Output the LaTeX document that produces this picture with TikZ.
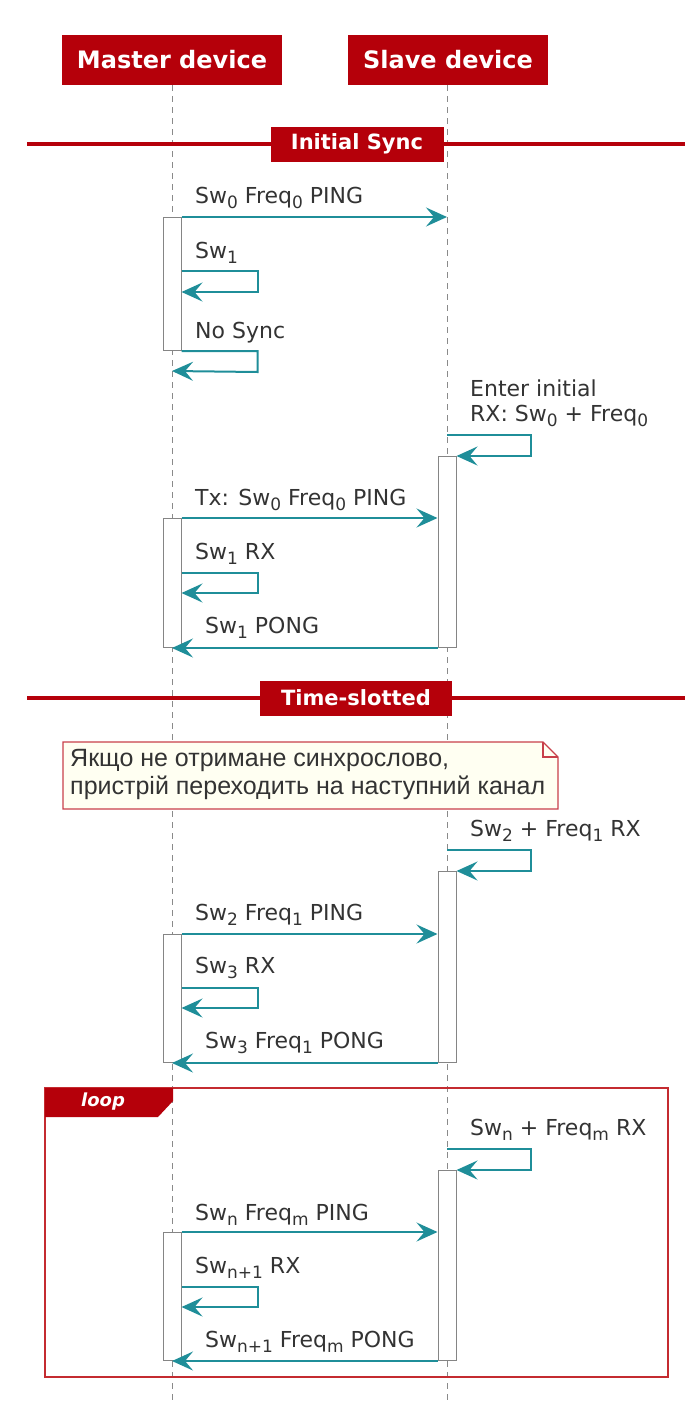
\documentclass[tikz,border=0pt]{standalone}
\usepackage{fontspec}
\setmainfont{DejaVu Sans}
\newfontfamily\notefont{Liberation Sans}
\usetikzlibrary{arrows.meta}

\definecolor{umlred}{HTML}{B5000A}
\definecolor{framered}{HTML}{C42B30}
\definecolor{msgteal}{HTML}{1F8E99}
\definecolor{actgray}{HTML}{858585}
\definecolor{lifegray}{HTML}{8A8A8A}
\definecolor{txtgray}{HTML}{333333}
\definecolor{notefill}{HTML}{FFFFF2}
\definecolor{noteline}{HTML}{C8404A}

% lowered index for channel / frequency numbers
\newcommand\lo[1]{\raisebox{-5pt}{\fontsize{17}{17}\selectfont #1}}

\begin{document}
\begin{tikzpicture}[x=1pt,y=-1pt,
  head/.style={fill=umlred, text=white, inner sep=0pt, minimum height=50pt,
    font=\fontsize{24}{26}\selectfont\bfseries},
  divbox/.style={fill=umlred, text=white, inner sep=0pt, minimum height=35pt,
    font=\fontsize{21}{24}\selectfont\bfseries},
  divline/.style={draw=umlred, line width=4pt},
  lifeline/.style={draw=lifegray, line width=1pt, dash pattern=on 6pt off 5pt},
  act/.style={draw=actgray, fill=white, line width=1pt, minimum width=18pt,
    inner sep=0pt, anchor=north},
  msg/.style={draw=msgteal, line width=2pt,
    -{Stealth[length=21pt,width=19pt,inset=8pt]}},
  lbl/.style={anchor=base west, inner sep=0pt, text=txtgray,
    font=\fontsize{22}{25}\selectfont},
]
\useasboundingbox (0,0) rectangle (699,1416);

% participants
\node[head, minimum width=220pt] (master) at (172,60) {Master device};
\node[head, minimum width=200pt] (slave) at (448,60) {Slave device};
\coordinate (mend) at (172,1405);
\coordinate (send) at (447,1405);
\draw[lifeline] (master.south) -- (mend);
\draw[lifeline] ([xshift=-1pt]slave.south) -- (send);

% ---------- Initial Sync ----------
\coordinate (d1l) at (27,144);
\coordinate (d1r) at (685,144);
\draw[divline] (d1l) -- (d1r);
\node[divbox, minimum width=173pt] (sync) at (357,144) {Initial Sync};

\node[act, minimum height=133pt] (m1) at (172,217) {};
\coordinate (sl1) at (447,217);
\draw[msg] (m1.north east) -- (sl1);
\node[lbl] (t1) at (195,203) {Sw\lo{0} Freq\lo{0} PING};

\draw[msg] ([yshift=-54pt]m1.north east) -- ++(76,0) -- ++(0,21) -- ++(-76,0);
\node[lbl] (t2) at (195,258) {Sw\lo{1}};

\coordinate (ml1) at (172,371);
\draw[msg] (m1.south east) -- ++(76,0) -- ++(0,21) -- (ml1);
\node[lbl] (t3) at (195,338) {No Sync};

\node[act, minimum height=191pt] (s1) at (447,456) {};
\coordinate (slA) at (447,435);
\draw[msg] (slA) -- ++(84,0) -- ++(0,21) -- (s1.north east);
\node[lbl] (t4a) at (470,396) {Enter initial};
\node[lbl] (t4b) at (470,421) {RX: Sw\lo{0} + Freq\lo{0}};

\node[act, minimum height=129pt] (m2) at (172,518) {};
\draw[msg] (m2.north east) -- (s1.west |- m2.north);
\node[lbl] (t5) at (195,505) {Tx: Sw\lo{0} Freq\lo{0} PING};

\draw[msg] ([yshift=-55pt]m2.north east) -- ++(76,0) -- ++(0,20) -- ++(-76,0);
\node[lbl] (t6) at (195,559) {Sw\lo{1} RX};

\draw[msg] (s1.south west) -- (m2.south);
\node[lbl] (t7) at (205,633) {Sw\lo{1} PONG};

% ---------- Time-slotted ----------
\coordinate (d2l) at (27,698);
\coordinate (d2r) at (685,698);
\draw[divline] (d2l) -- (d2r);
\node[divbox, minimum width=192pt] (slot) at (356,698) {Time-slotted};

% note with folded corner
\draw[noteline, fill=notefill, line width=1.1pt]
  (63,742) -- (543,742) -- (558,757) -- (558,809) -- (63,809) -- cycle;
\draw[noteline, line width=1.1pt] (543,742) -- (543,757) -- (558,757);
\node[anchor=north west, inner sep=0pt, align=left, text=txtgray,
  font=\notefont\fontsize{25}{28}\selectfont] (note) at (70,749)
  {Якщо не отримане синхрослово,\\пристрій переходить на наступний канал};

\node[act, minimum height=191pt] (s2) at (447,871) {};
\coordinate (slB) at (447,850);
\draw[msg] (slB) -- ++(84,0) -- ++(0,21) -- (s2.north east);
\node[lbl] (t8) at (470,836) {Sw\lo{2} + Freq\lo{1} RX};

\node[act, minimum height=128pt] (m3) at (172,934) {};
\draw[msg] (m3.north east) -- (s2.west |- m3.north);
\node[lbl] (t9) at (195,920) {Sw\lo{2} Freq\lo{1} PING};

\draw[msg] ([yshift=-54pt]m3.north east) -- ++(76,0) -- ++(0,20) -- ++(-76,0);
\node[lbl] (t10) at (195,973) {Sw\lo{3} RX};

\draw[msg] (s2.south west) -- (m3.south);
\node[lbl] (t11) at (205,1048) {Sw\lo{3} Freq\lo{1} PONG};

% ---------- loop ----------
\draw[framered, line width=2.6pt] (45,1088) rectangle (668,1377);
\fill[umlred] (45,1088) -- (173,1088) -- (173,1101) -- (158,1117) -- (45,1117) -- cycle;
\node[text=white, inner sep=0pt, font=\fontsize{18}{20}\selectfont\bfseries\itshape]
  (loop) at (103,1102) {loop};

\node[act, minimum height=190pt] (s3) at (447,1170) {};
\coordinate (slC) at (447,1149);
\draw[msg] (slC) -- ++(84,0) -- ++(0,21) -- (s3.north east);
\node[lbl] (t12) at (470,1135) {Sw\lo{n} + Freq\lo{m} RX};

\node[act, minimum height=128pt] (m4) at (172,1232) {};
\draw[msg] (m4.north east) -- (s3.west |- m4.north);
\node[lbl] (t13) at (195,1220) {Sw\lo{n} Freq\lo{m} PING};

\draw[msg] ([yshift=-55pt]m4.north east) -- ++(76,0) -- ++(0,20) -- ++(-76,0);
\node[lbl] (t14) at (195,1273) {Sw\lo{n+1} RX};

\draw[msg] (s3.south west) -- (m4.south);
\node[lbl] (t15) at (205,1347) {Sw\lo{n+1} Freq\lo{m} PONG};
\end{tikzpicture}
\end{document}
